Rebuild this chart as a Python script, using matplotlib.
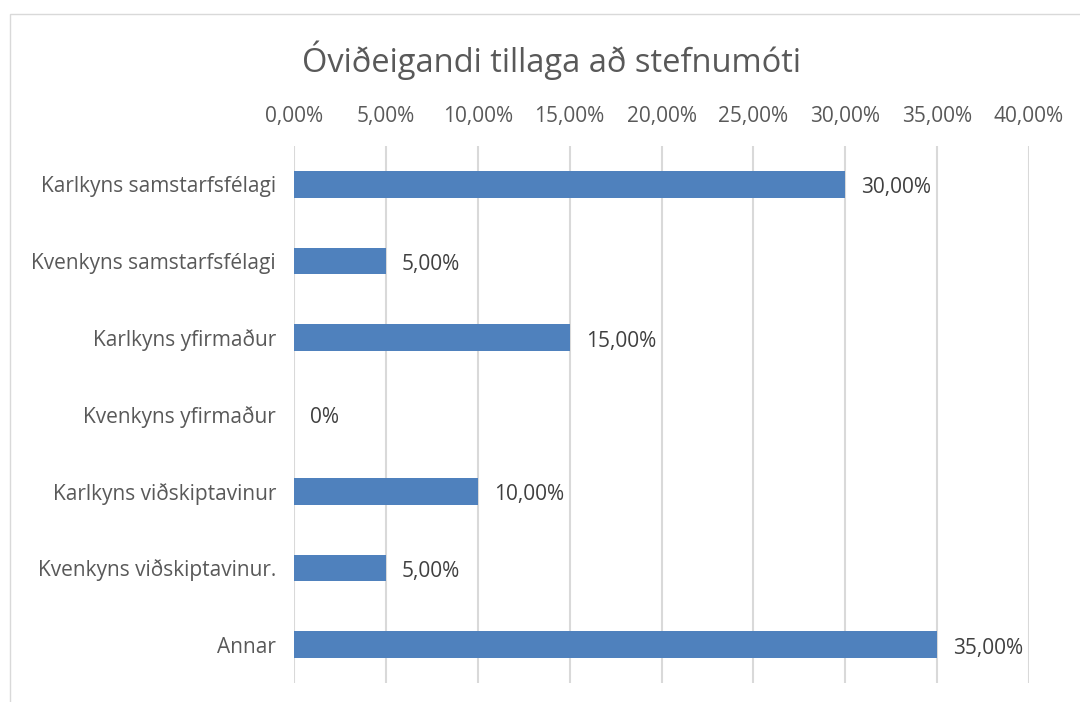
import matplotlib.pyplot as plt
from matplotlib.patches import Rectangle
from matplotlib.ticker import FuncFormatter

plt.rcParams['font.family'] = ['Open Sans', 'DejaVu Sans']

categories = ["Karlkyns samstarfsfélagi", "Kvenkyns samstarfsfélagi", "Karlkyns yfirmaður",
              "Kvenkyns yfirmaður", "Karlkyns viðskiptavinur", "Kvenkyns viðskiptavinur.", "Annar"]
values = [30.0, 5.0, 15.0, 0.0, 10.0, 5.0, 35.0]
labels = ["30,00%", "5,00%", "15,00%", "0%", "10,00%", "5,00%", "35,00%"]
xticks = [0, 5, 10, 15, 20, 25, 30, 35, 40]

grey = "#595959"
fig = plt.figure(figsize=(10.8, 7.02), dpi=100)
fig.patches.append(Rectangle((10 / 1080, -0.1), 1.2, (1 - 14 / 702) + 0.1, transform=fig.transFigure,
                             fill=False, edgecolor="#D9D9D9", linewidth=1))
ax = fig.add_axes([294 / 1080, 1 - 683 / 702, (1029 - 294) / 1080, (683 - 146) / 702])

ypos = list(range(len(categories)))
ax.barh(ypos, values, height=0.35, color="#4F81BD", zorder=3)
for y, v, lab in zip(ypos, values, labels):
    ax.annotate(lab, (v, y), xytext=(11.5, -2.5), textcoords="offset points", va="center", ha="left",
                fontsize=15, color="#404040")

ax.set_xlim(0, 40)
ax.set_ylim(len(categories) - 0.5, -0.5)
ax.set_xticks(xticks)
ax.xaxis.set_major_formatter(FuncFormatter(lambda x, p: f"{x:.2f}%".replace(".", ",")))
ax.xaxis.tick_top()
ax.set_yticks(ypos)
ax.set_yticklabels(categories)
ax.tick_params(axis="both", length=0, labelsize=15, labelcolor=grey)
ax.tick_params(axis="x", pad=13.5)
ax.tick_params(axis="y", pad=13)
for t in ax.get_yticklabels():
    t.set_y(t.get_position()[1])
ax.grid(axis="x", color="#D9D9D9", linewidth=1.5, zorder=0)
for s in ax.spines.values():
    s.set_visible(False)

fig.text(551 / 1080, 1 - 60 / 702, "Óviðeigandi tillaga að stefnumóti", ha="center", va="center",
         fontsize=23.5, color=grey)

fig.savefig("out.png", dpi=100)
